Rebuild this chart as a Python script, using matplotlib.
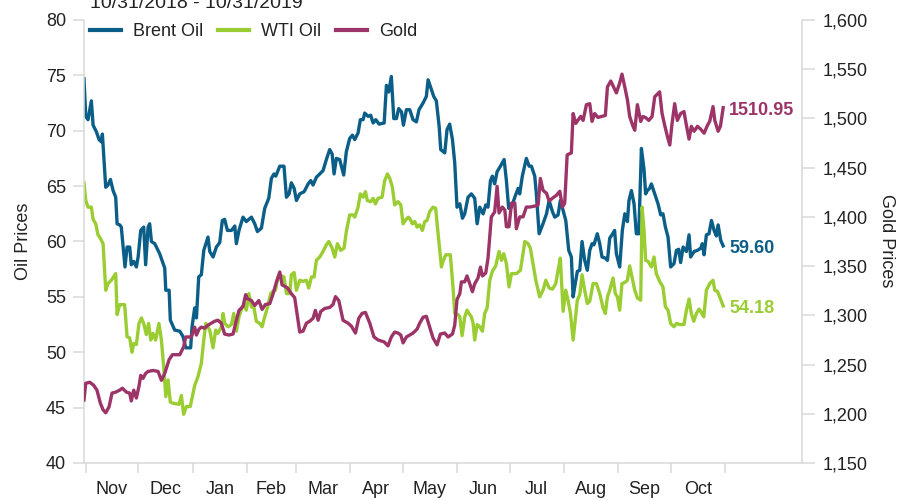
import numpy as np
import pandas as pd
import matplotlib
matplotlib.use("Agg")
import matplotlib.pyplot as plt
from matplotlib.lines import Line2D
from matplotlib.ticker import FuncFormatter, MultipleLocator

plt.rcParams['font.family'] = ['Liberation Sans', 'DejaVu Sans']

start = pd.Timestamp('2018-10-31')
title = '10/31/2018 - 10/31/2019'
names = ['Brent Oil', 'WTI Oil', 'Gold']
colors = ['#0b5e87', '#9acd32', '#9c3468']

# day offsets from 10/31/2018 and prices
brent_days = [0, 1.0, 2.3, 4.2, 5.2, 7.1, 8.6, 9.9, 10.5, 12.4, 13.7, 15.1, 16.6, 18.1, 18.9, 20.4,
              21.3, 22.7, 23.4, 24.6, 26.1, 27.0, 28.4, 29.9, 30.9, 32.4, 34.1, 35.2, 36.6, 37.5,
              38.5, 40.4, 43.2, 46.1, 46.7, 48.6, 49.3, 51.8, 54.7, 56.6, 58.1, 60.9, 61.7, 63.2,
              64.2, 65.5, 67.0, 68.4, 70.8, 71.8, 73.7, 75.6, 77.5, 79.0, 80.3, 81.9, 84.2, 86.1,
              87.0, 88.5, 90.8, 92.7, 95.6, 97.5, 99.0, 101.3, 103.2, 105.5, 107.0, 108.5, 109.5,
              111.8, 114.2, 115.6, 117.1, 118.4, 120.0, 121.3, 123.2, 125.7, 128.0, 129.5, 130.8,
              132.7, 134.6, 136.5, 138.4, 140.3, 141.7, 142.8, 144.1, 146.0, 148.3, 149.8, 151.7,
              153.3, 154.6, 156.5, 157.8, 159.4, 160.3, 162.2, 163.7, 165.1, 166.6, 168.5, 171.4,
              172.7, 174.0, 175.5, 176.9, 178.4, 179.7, 181.3, 182.4, 184.1, 186.0, 187.9, 189.8,
              191.3, 193.6, 195.5, 196.5, 198.4, 199.7, 201.2, 202.8, 203.7, 206.0, 207.3, 208.8,
              210.4, 211.7, 213.0, 214.6, 216.1, 217.4, 219.3, 221.2, 223.1, 224.5, 226.0, 227.9,
              229.4, 230.7, 232.1, 233.2, 234.5, 235.9, 237.8, 239.9, 241.2, 242.5, 244.1, 246.0,
              247.9, 248.8, 250.3, 252.6, 254.2, 255.5, 257.4, 258.3, 259.9, 262.1, 264.1, 265.6,
              267.5, 268.8, 270.7, 272.0, 273.6, 275.1, 276.8, 278.3, 279.3, 280.2, 281.7, 283.1,
              284.4, 285.9, 287.4, 288.8, 290.1, 291.2, 293.1, 294.5, 295.8, 297.7, 298.9, 300.2,
              301.5, 303.0, 304.0, 305.9, 307.4, 308.8, 310.3, 311.2, 312.6, 314.1, 315.4, 316.8,
              318.3, 319.8, 320.7, 321.7, 323.0, 324.0, 325.9, 327.8, 329.3, 330.6, 332.0, 333.5,
              335.0, 336.9, 338.3, 339.6, 340.7, 342.1, 344.0, 345.5, 346.4, 348.4, 350.3, 352.2,
              353.1, 354.1, 355.4, 356.9, 358.3, 359.8, 361.1, 362.1, 363.6, 365.0]
brent = [74.7, 71.3, 71.0, 72.7, 70.5, 69.9, 69.2, 69.0, 69.7, 64.9, 65.1, 65.6, 64.6, 64.0, 61.6, 61.5,
         61.3, 58.9, 57.7, 59.5, 59.5, 57.9, 58.2, 57.7, 58.6, 61.0, 61.3, 57.9, 61.3, 61.6,
         60.0, 59.8, 58.9, 57.6, 55.6, 55.6, 52.9, 52.0, 51.9, 51.4, 50.4, 50.4, 52.3, 54.0,
         53.1, 56.8, 57.0, 59.2, 60.4, 59.1, 58.6, 59.5, 59.9, 61.9, 62.0, 61.0, 61.0, 61.4,
         59.8, 61.0, 62.2, 61.8, 62.2, 61.6, 60.9, 61.2, 63.0, 63.9, 65.7, 66.1, 65.9,
         66.8, 66.8, 64.0, 64.3, 65.3, 64.8, 63.7, 64.3, 64.5, 65.2, 65.5, 65.1,
         65.8, 66.1, 66.4, 67.4, 68.3, 67.9, 66.1, 67.5, 67.4, 66.0, 68.1, 69.3,
         69.6, 69.2, 69.8, 71.0, 71.0, 71.6, 71.3, 71.4, 70.7, 71.0, 70.6, 70.7,
         74.1, 73.5, 74.9, 71.1, 71.1, 72.0, 71.7, 70.5, 71.9, 71.9, 71.0, 70.8,
         71.9, 72.5, 73.1, 74.6, 73.7, 73.1, 72.7, 70.4, 68.3, 68.0, 70.1, 70.6,
         69.2, 67.1, 63.1, 63.4, 62.1, 62.5, 64.0, 64.3, 63.9, 61.6, 63.1, 62.5,
         63.3, 63.1, 65.5, 65.9, 65.2, 66.3, 66.8, 67.4, 65.5, 63.0, 63.1, 64.0,
         64.8, 64.3, 65.9, 67.5, 66.8, 66.8, 65.9, 64.3, 60.7, 61.6, 62.5, 63.7,
         62.7, 62.2, 62.4, 63.7, 62.8, 61.9, 59.2, 58.6, 55.0, 55.9, 57.3, 57.4,
         60.0, 58.3, 57.4, 59.2, 59.8, 59.7, 60.7, 59.8, 58.6, 58.5, 58.3, 60.3,
         60.6, 61.0, 58.9, 57.7, 61.0, 62.5, 61.8, 63.7, 64.6, 63.4, 60.7, 60.7,
         68.4, 66.5, 64.3, 64.6, 64.8, 65.2, 64.3, 63.4, 62.4, 62.5, 61.3, 60.4,
         57.7, 58.0, 59.2, 59.3, 58.1, 59.5, 59.1, 60.6, 58.6, 59.1, 59.2, 59.4,
         59.8, 58.8, 60.6, 60.7, 61.9, 61.0, 60.5, 61.5, 60.1, 59.60]

wti_days = [0, 1.0, 2.3, 4.2, 5.2, 6.7, 8.0, 9.3, 10.9, 12.4, 13.7, 15.6, 18.1, 18.9, 20.4, 23.2,
            24.6, 26.1, 27.4, 28.4, 29.9, 31.4, 32.8, 34.1, 35.6, 36.9, 38.1, 39.4, 40.9, 42.8,
            44.2, 45.5, 46.7, 48.0, 49.3, 50.8, 54.3, 55.6, 56.9, 58.5, 60.7, 63.2, 65.1, 67.0,
            68.4, 69.5, 71.8, 73.7, 75.2, 76.5, 78.4, 79.4, 80.4, 82.3, 84.2, 85.5, 87.0, 88.5,
            90.4, 91.8, 92.7, 94.1, 95.6, 97.1, 98.4, 100.3, 101.7, 103.2, 104.7, 106.6, 108.0,
            109.3, 110.8, 112.7, 114.2, 115.6, 117.5, 118.4, 120.0, 121.3, 123.2, 125.1, 127.0,
            128.3, 129.9, 131.4, 132.7, 134.6, 136.5, 138.4, 139.8, 141.7, 143.2, 144.7, 146.6,
            148.5, 149.8, 151.7, 153.6, 154.6, 156.5, 157.8, 159.4, 160.7, 161.8, 163.7, 165.1,
            166.4, 167.9, 170.2, 171.7, 173.3, 174.6, 176.1, 177.4, 179.3, 180.9, 182.2, 183.5,
            185.1, 186.0, 187.5, 188.9, 190.2, 191.7, 193.2, 194.6, 195.9, 197.4, 199.3, 200.8,
            202.2, 204.1, 205.0, 206.6, 209.2, 210.7, 211.7, 213.6, 214.6, 215.9, 217.4, 218.7,
            220.3, 221.2, 222.2, 223.1, 224.5, 226.0, 227.5, 228.8, 230.2, 231.7, 233.2, 235.1,
            237.0, 238.4, 239.7, 241.2, 242.7, 244.1, 246.9, 249.2, 250.7, 251.7, 253.6, 254.9,
            256.4, 258.0, 260.2, 262.1, 263.7, 265.6, 267.5, 269.4, 270.7, 272.0, 273.6, 275.1,
            276.4, 277.8, 279.3, 281.7, 283.1, 284.4, 285.9, 287.4, 288.8, 290.7, 292.6, 294.5,
            296.4, 297.7, 298.9, 300.2, 302.1, 303.4, 304.6, 305.9, 307.2, 308.8, 310.3, 311.6,
            312.9, 314.5, 316.0, 317.9, 318.7, 319.8, 320.7, 322.1, 324.0, 325.5, 326.8, 328.7,
            330.6, 332.0, 333.5, 335.0, 336.9, 338.3, 340.2, 342.6, 344.0, 345.5, 346.8, 348.2,
            349.7, 351.2, 352.5, 353.9, 355.4, 357.3, 359.2, 360.2, 361.7, 363.0, 365.0]
wti = [65.3, 63.7, 63.1, 63.1, 62.0, 61.6, 60.6, 60.3, 59.8, 55.6, 56.2, 56.5, 57.1, 53.4, 54.3, 54.3,
       51.4, 51.3, 50.0, 50.8, 50.7, 52.6, 53.1, 52.6, 51.6, 52.6, 51.1, 51.7, 51.1, 52.6,
       51.1, 48.7, 46.0, 47.5, 45.5, 45.4, 45.3, 46.1, 44.4, 45.1, 45.1, 47.0, 47.8, 49.0,
       51.1, 52.6, 52.0, 50.4, 52.0, 51.7, 52.3, 53.5, 52.6, 52.3, 52.5, 53.5, 51.9, 53.2,
       54.1, 54.3, 53.8, 55.3, 54.1, 54.0, 52.8, 52.6, 52.3, 53.2, 54.0, 55.3, 55.5,
       55.6, 56.8, 56.9, 56.8, 55.3, 55.3, 57.0, 57.2, 55.6, 56.5, 56.4, 56.5,
       55.8, 56.8, 56.8, 58.3, 58.6, 59.1, 59.7, 60.0, 59.4, 58.6, 59.8, 59.2,
       59.4, 60.9, 62.4, 62.4, 62.2, 63.1, 64.3, 64.0, 64.5, 63.7, 63.6, 63.9,
       63.4, 63.9, 64.0, 65.5, 66.1, 65.7, 64.9, 63.3, 63.6, 63.3, 61.6, 61.9,
       62.2, 62.1, 61.6, 61.8, 61.3, 61.5, 61.0, 61.8, 61.9, 62.7, 63.1, 63.0,
       60.7, 57.7, 58.2, 58.8, 58.8, 55.9, 53.5, 53.4, 53.2, 51.5, 53.2, 53.8,
       53.4, 53.2, 52.6, 51.1, 52.5, 52.3, 51.9, 53.5, 54.0, 56.5, 57.3, 57.8,
       59.1, 58.3, 58.9, 58.0, 55.9, 57.1, 57.1, 57.4, 58.9, 60.0, 59.8, 59.4,
       58.0, 56.5, 55.0, 55.6, 56.5, 55.8, 55.7, 56.2, 57.4, 58.5, 53.7, 55.6,
       54.7, 53.5, 51.1, 54.7, 55.2, 57.0, 55.6, 54.4, 54.6, 56.2, 56.2, 55.3,
       54.0, 53.5, 55.0, 55.6, 56.7, 55.3, 55.0, 53.8, 56.2, 56.3, 56.5, 57.8,
       56.8, 55.6, 54.9, 54.7, 63.1, 61.0, 58.3, 58.2, 57.7, 58.6, 57.1, 56.4,
       55.9, 54.1, 53.8, 52.6, 52.3, 52.6, 52.5, 52.5, 53.8, 54.8, 53.5, 52.8,
       53.5, 53.9, 53.6, 53.2, 55.6, 56.2, 56.5, 55.6, 55.5, 55.0, 54.18]

gold_days = [0, 1.0, 3.3, 5.5, 7.4, 9.3, 10.9, 12.4, 14.3, 16.0, 18.1, 20.4, 21.9, 24.2, 26.1, 27.0,
             28.4, 29.9, 31.4, 32.4, 33.7, 35.2, 36.6, 39.4, 42.3, 44.2, 46.1, 48.6, 50.5, 54.7,
             56.9, 58.1, 61.3, 63.2, 64.2, 65.7, 67.0, 68.9, 70.8, 72.7, 74.6, 76.5, 78.4, 80.3,
             82.8, 85.1, 86.6, 88.5, 90.8, 92.3, 93.3, 95.6, 97.5, 99.8, 101.7, 103.6, 106.1,
             108.0, 109.9, 111.8, 113.1, 116.1, 118.4, 120.3, 121.9, 123.2, 125.1, 127.0, 128.9,
             130.8, 132.1, 133.7, 135.2, 137.5, 140.3, 142.2, 143.6, 145.5, 147.9, 150.8, 152.7,
             155.0, 156.9, 158.8, 160.7, 163.2, 165.6, 167.9, 171.4, 173.6, 175.5, 177.4, 179.3,
             180.9, 182.2, 184.1, 186.0, 187.9, 190.2, 191.7, 193.6, 195.5, 197.4, 199.3, 201.6,
             203.5, 206.0, 207.9, 210.4, 211.7, 213.0, 214.6, 215.5, 217.4, 218.7, 220.3, 221.8,
             223.1, 225.0, 226.4, 227.5, 229.4, 230.7, 232.6, 234.5, 235.9, 237.0, 238.9, 240.3,
             241.2, 242.7, 244.1, 246.0, 246.9, 248.8, 250.7, 252.6, 254.5, 257.4, 259.3, 260.6,
             262.1, 264.1, 265.6, 267.5, 269.8, 271.7, 273.2, 274.5, 275.9, 278.3, 279.3, 280.8,
             283.6, 285.0, 286.9, 288.8, 290.1, 291.6, 293.5, 295.4, 297.7, 298.9, 300.8, 302.7,
             304.0, 305.9, 307.2, 308.8, 310.3, 311.6, 313.5, 314.5, 316.0, 317.9, 319.2, 320.6,
             322.5, 324.4, 325.9, 328.7, 330.1, 331.6, 333.1, 334.5, 335.8, 337.3, 338.8, 340.7,
             342.6, 344.0, 345.5, 346.8, 348.4, 350.3, 352.2, 354.1, 356.0, 357.3, 359.2, 360.2,
             362.1, 363.4, 365.0]
gold = [1214, 1231, 1232, 1229, 1224, 1211, 1204, 1201, 1207, 1221, 1222, 1224, 1226, 1222, 1221, 1213,
        1224, 1216, 1228, 1239, 1236, 1241, 1243, 1244, 1243, 1234, 1241, 1255, 1260, 1260,
        1268, 1278, 1278, 1288, 1280, 1286, 1288, 1287, 1290, 1292, 1294, 1295, 1292, 1281,
        1280, 1281, 1292, 1305, 1309, 1321, 1317, 1315, 1310, 1315, 1306, 1311, 1312,
        1322, 1334, 1344, 1331, 1328, 1322, 1318, 1299, 1283, 1284, 1292, 1294,
        1297, 1305, 1295, 1304, 1307, 1308, 1311, 1319, 1315, 1295, 1292, 1289,
        1282, 1297, 1302, 1303, 1292, 1278, 1275, 1273, 1269, 1278, 1283, 1282,
        1280, 1272, 1278, 1280, 1282, 1286, 1292, 1298, 1299, 1288, 1277, 1270,
        1281, 1282, 1278, 1281, 1290, 1316, 1322, 1334, 1334, 1340, 1332, 1324,
        1332, 1338, 1349, 1340, 1343, 1358, 1400, 1405, 1431, 1404, 1410, 1407,
        1390, 1390, 1414, 1414, 1388, 1400, 1400, 1410, 1410, 1411, 1412, 1439,
        1427, 1424, 1416, 1419, 1422, 1426, 1410, 1414, 1463, 1465, 1505, 1495,
        1502, 1498, 1514, 1515, 1497, 1505, 1501, 1502, 1503, 1532, 1538, 1531,
        1526, 1536, 1545, 1532, 1519, 1502, 1492, 1488, 1514, 1497, 1502, 1501,
        1498, 1502, 1522, 1527, 1505, 1493, 1482, 1473, 1495, 1515, 1498, 1505,
        1507, 1493, 1479, 1492, 1487, 1492, 1489, 1485, 1493, 1497, 1512, 1498,
        1487, 1492, 1510.95]

month_starts = pd.date_range('2018-11-01', '2019-11-01', freq='MS')


def to_dates(days):
    return start + pd.to_timedelta(np.array(days), unit='D')


fig = plt.figure(figsize=(9.02, 5.0), dpi=100)
ax = fig.add_axes([84 / 902, 37 / 500, 718 / 902, 443 / 500])
ax2 = ax.twinx()

grey = '#d9d9d9'
txt = '#222222'

ax.plot(to_dates(brent_days), brent, color=colors[0], lw=2.4, solid_joinstyle='round')
ax.plot(to_dates(wti_days), wti, color=colors[1], lw=2.4, solid_joinstyle='round')
ax2.plot(to_dates(gold_days), gold, color=colors[2], lw=2.4, solid_joinstyle='round')

ax.set_xlim(start, start + pd.Timedelta(days=410))
ax.set_ylim(40, 80)
ax2.set_ylim(1150, 1600)
ax.yaxis.set_major_locator(MultipleLocator(5))
ax2.yaxis.set_major_locator(MultipleLocator(50))
ax2.yaxis.set_major_formatter(FuncFormatter(lambda v, p: f'{v:,.0f}'))

# month boundaries as ticks, names centred in each month
mids = month_starts[:-1] + (month_starts[1:] - month_starts[:-1]) / 2
ax.set_xticks(list(month_starts.to_pydatetime()))
ax.set_xticklabels([''] * len(month_starts))
ax.set_xticks(list(mids.to_pydatetime()), minor=True)
ax.set_xticklabels(month_starts[:-1].strftime('%b'), minor=True)
ax.tick_params(axis='x', which='major', length=7.5, width=1.1, color=grey)
ax.tick_params(axis='x', which='minor', length=0, pad=13, labelsize=13, labelcolor=txt)

ax.tick_params(axis='y', length=8, width=1.1, color=grey, pad=5, labelsize=13, labelcolor=txt)
ax2.tick_params(axis='y', length=9, width=1.1, color=grey, pad=5.5, labelsize=13, labelcolor=txt)

for a in (ax, ax2):
    for s in a.spines.values():
        s.set_color(grey)
        s.set_linewidth(1.1)
    a.spines['top'].set_visible(False)
ax.spines['right'].set_visible(False)
ax2.spines['left'].set_visible(False)
ax2.spines['bottom'].set_visible(False)

# end-of-series labels
end_date = to_dates([brent_days[-1]])[0]
ax.annotate(f'{brent[-1]:.2f}', xy=(end_date, brent[-1]), xytext=(6, -3), textcoords='offset pixels',
            ha='left', va='center', color=colors[0], fontsize=13, fontweight='bold')
ax.annotate(f'{wti[-1]:.2f}', xy=(end_date, wti[-1]), xytext=(6, -3), textcoords='offset pixels',
            ha='left', va='center', color=colors[1], fontsize=13, fontweight='bold')
ax2.annotate(f'{gold[-1]:.2f}', xy=(end_date, gold[-1]), xytext=(6, -3), textcoords='offset pixels',
             ha='left', va='center', color=colors[2], fontsize=13, fontweight='bold')

fig.text(24 / 902, 1 - 241 / 500, 'Oil Prices', rotation=90, ha='center', va='center',
         fontsize=13, color=txt)
fig.text(886 / 902, 1 - 241 / 500, 'Gold Prices', rotation=270, ha='center', va='center',
         fontsize=13, color=txt)
fig.text(90 / 902, 1 - 8.5 / 500, title, ha='left', va='baseline', fontsize=14, color=txt)

handles = [Line2D([], [], color=c, lw=3) for c in colors]
fig.legend(handles, names, loc='center left', bbox_to_anchor=(90 / 902, 1 - 32 / 500), ncol=3,
           frameon=False, fontsize=13, handlelength=1.7, handletextpad=0.7, columnspacing=0.8,
           borderpad=0, borderaxespad=0, labelcolor=txt)

fig.savefig('out.png', dpi=100)
